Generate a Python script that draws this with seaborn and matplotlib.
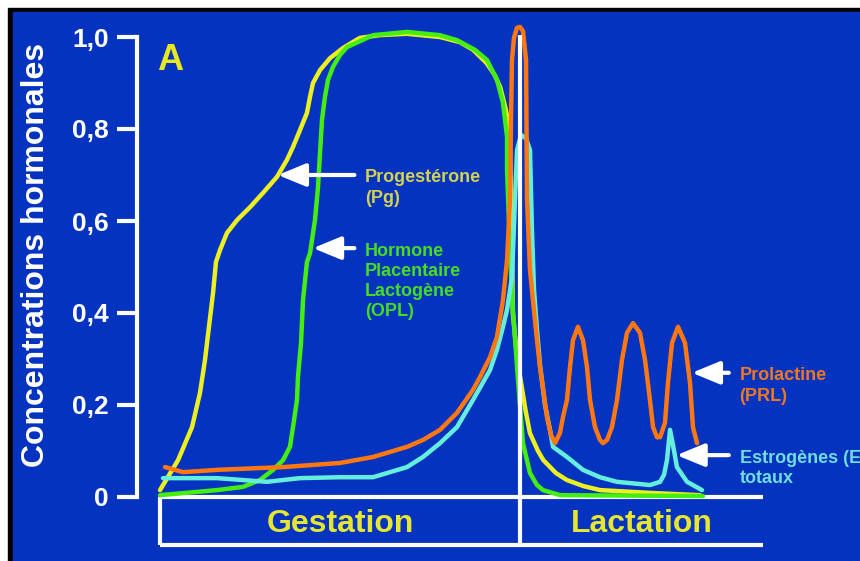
import seaborn as sns
import matplotlib.pyplot as plt
from matplotlib.patches import Rectangle

# time axis in weeks: gestation 0-40, then lactation
pg_weeks = [0, 2.0, 3.56, 4.44, 5.0, 5.44, 5.89, 6.22, 6.67, 7.44, 8.56, 10.0, 11.44, 13.0,
            14.11, 14.78, 15.56, 16.33, 16.67, 17.0, 17.78, 18.89, 20.33, 22.2, 24.4, 27.4,
            31.1, 33.3, 34.8, 36.3, 37.2, 37.8, 38.3, 38.6, 38.9, 39.1, 39.2, 39.7, 40.2, 40.6,
            41.1, 42.0, 42.6, 44.0, 45.2, 47.0, 48.9, 54.4, 60.0]
pg_conc = [0.015, 0.080, 0.152, 0.226, 0.298, 0.370, 0.443, 0.511, 0.537, 0.574, 0.602, 0.630,
           0.661, 0.696, 0.733, 0.761, 0.798, 0.835, 0.870, 0.900, 0.928, 0.954, 0.976, 0.998,
           1.004, 1.007, 1.0, 0.989, 0.972, 0.943, 0.917, 0.891, 0.852, 0.826, 0.748, 0.58,
           0.40, 0.298, 0.239, 0.19, 0.139, 0.100, 0.080, 0.052, 0.037, 0.024, 0.015, 0.009,
           0.004]

opl_weeks = [0, 6.33, 9.22, 11.11, 12.56, 13.67, 14.44, 14.78, 15.22, 15.33, 15.67, 15.89,
             16.33, 16.67, 17.22, 17.56, 17.78, 18.0, 18.33, 18.67, 19.22, 20.0, 20.78, 23.67,
             27.44, 31.1, 33.0, 35.0, 36.33, 37.44, 38.11, 38.56, 38.56, 38.89, 39.22, 39.78,
             40.33, 41.11, 41.89, 42.56, 44.44, 60.33]
opl_conc = [0.004, 0.015, 0.022, 0.037, 0.059, 0.080, 0.109, 0.152, 0.211, 0.261, 0.335, 0.428,
            0.511, 0.530, 0.602, 0.674, 0.748, 0.820, 0.870, 0.907, 0.935, 0.961, 0.978, 1.004,
            1.011, 1.004, 0.993, 0.972, 0.950, 0.907, 0.857, 0.783, 0.711, 0.537, 0.407, 0.254,
            0.117, 0.052, 0.026, 0.015, 0.004, 0.002]

prl_weeks = [0.56, 2.56, 6.33, 13.67, 20.0, 23.67, 27.44, 29.22, 31.11, 33.0, 34.78, 35.56,
             36.67, 37.44, 38.11, 38.56, 38.89, 39.0, 39.11, 39.33, 39.67, 40.0, 40.33, 40.67,
             40.78, 41.11, 41.44, 41.89, 42.22, 43.0, 43.44, 43.89, 44.44, 44.78, 45.22, 45.56,
             45.89, 46.44, 47.0, 47.44, 47.78, 48.33, 48.89, 49.22, 49.67, 50.22, 50.78, 51.33,
             51.89, 52.56, 53.33, 53.89, 54.44, 54.78, 55.22, 55.56, 56.11, 56.44, 56.89, 57.56,
             58.33, 58.89, 59.22, 59.67]
prl_conc = [0.065, 0.054, 0.059, 0.065, 0.074, 0.087, 0.109, 0.124, 0.146, 0.183, 0.233, 0.261,
            0.304, 0.348, 0.428, 0.515, 0.646, 0.820, 0.950, 0.998, 1.020, 1.022, 1.013, 0.950,
            0.646, 0.493, 0.428, 0.341, 0.283, 0.174, 0.135, 0.117, 0.139, 0.174, 0.211, 0.283,
            0.341, 0.370, 0.341, 0.283, 0.211, 0.152, 0.124, 0.117, 0.124, 0.152, 0.211, 0.298,
            0.357, 0.378, 0.357, 0.298, 0.211, 0.152, 0.130, 0.130, 0.161, 0.248, 0.335, 0.370,
            0.335, 0.248, 0.152, 0.117]

e_weeks = [0.33, 6.33, 11.89, 15.56, 20.0, 23.67, 27.44, 29.22, 31.11, 33.0, 34.78, 36.67,
           37.44, 38.11, 38.56, 39.11, 39.44, 39.67, 40.11, 40.67, 41.11, 41.33, 41.56, 41.89,
           42.22, 42.78, 43.33, 43.67, 45.22, 47.0, 48.89, 50.78, 54.44, 55.56, 56.0, 56.33,
           56.67, 57.0, 57.44, 58.56, 60.22]
e_conc = [0.041, 0.041, 0.033, 0.041, 0.043, 0.043, 0.065, 0.087, 0.117, 0.152, 0.211, 0.276,
          0.320, 0.370, 0.407, 0.478, 0.646, 0.754, 0.787, 0.780, 0.754, 0.580, 0.450, 0.363,
          0.287, 0.200, 0.146, 0.109, 0.087, 0.059, 0.043, 0.033, 0.026, 0.033, 0.048, 0.080,
          0.146, 0.113, 0.065, 0.033, 0.015]

periods = ["Gestation", "Lactation"]
period_bounds = [0, 40, 67]
yticks = [0, 0.2, 0.4, 0.6, 0.8, 1.0]
ytick_labels = ["0", "0,2", "0,4", "0,6", "0,8", "1,0"]

BLUE = "#0433BF"
sns.set_theme(style="white")
plt.rcParams["font.family"] = ["Liberation Sans", "DejaVu Sans"]
plt.rcParams["font.weight"] = "bold"

fig = plt.figure(figsize=(8.6, 5.61), dpi=100, facecolor="white")
fig.patches.append(Rectangle((8 / 860, 0), 1, 553 / 561, transform=fig.transFigure,
                             color="black", zorder=-2))
fig.patches.append(Rectangle((13 / 860, 0), 1, 549 / 561, transform=fig.transFigure,
                             color=BLUE, zorder=-1))
ax = fig.add_axes([0, 0, 1, 1])
ax.patch.set_visible(False)
ax.set_xlim(-160 / 9, 700 / 9)
ax.set_ylim(-64 / 460, 497 / 460)

series = [
    (pg_weeks, pg_conc, "#ECF020"),
    (opl_weeks, opl_conc, "#44EE11"),
    (e_weeks, e_conc, "#66EEDD"),
    (prl_weeks, prl_conc, "#FF7711"),
]
for i, (w, c, col) in enumerate(series):
    sns.lineplot(x=w, y=c, sort=False, estimator=None, color=col, lw=3.2, ax=ax, zorder=3 + i,
                 solid_joinstyle="round", solid_capstyle="round")

# y axis
for s in ["top", "right", "bottom"]:
    ax.spines[s].set_visible(False)
ax.spines["left"].set_position(("data", -23 / 9))
ax.spines["left"].set_bounds(0, 1)
ax.spines["left"].set_color("white")
ax.spines["left"].set_linewidth(3)
ax.set_yticks(yticks)
ax.set_yticklabels(ytick_labels)
ax.set_xticks([])
ax.tick_params(axis="y", left=True, direction="out", length=14.5, width=3, color="white",
               pad=6, labelsize=19, labelcolor="white")
ax.text(-13.8, 0.526, "Concentrations hormonales", rotation=90, ha="center", va="center",
        color="white", fontsize=23, fontweight="bold")
ax.text(1.1, 0.95, "A", ha="center", va="center", color="#E8E820", fontsize=26,
        fontweight="bold")

# period box
box_bottom = -48 / 460
ax.hlines([0, box_bottom], period_bounds[0], period_bounds[-1], color="white", lw=3, zorder=2)
ax.vlines(period_bounds[0], box_bottom, 0, color="white", lw=3, zorder=2)
ax.vlines(period_bounds[1], box_bottom, 1.004, color="white", lw=3, zorder=10)
for i, name in enumerate(periods):
    ax.text((period_bounds[i] + period_bounds[i + 1]) / 2, -27 / 460, name, ha="center",
            va="center", color="#E6E632", fontsize=23, fontweight="bold")

# labels and arrows
labels = [
    ("Progestérone\n(Pg)", "#D2D250", 13.1, 0.70, 22.8),
    ("Hormone\nPlacentaire\nLactogène\n(OPL)", "#44DD22", 17.0, 0.541, 22.8),
    ("Prolactine\n(PRL)", "#EE7722", 59.1, 0.27, 64.4),
    ("Estrogènes (E)\ntotaux", "#70DDDD", 57.4, 0.091, 64.4),
]
for text, col, tip_x, tip_y, text_x in labels:
    ax.annotate("", xy=(tip_x, tip_y), xytext=(text_x - 1.2, tip_y),
                arrowprops=dict(arrowstyle="-|>,head_length=0.85,head_width=0.35",
                                color="white", lw=3, shrinkA=0, shrinkB=0,
                                mutation_scale=20), zorder=12)
    ax.text(text_x, tip_y + 0.012, text, ha="left", va="top", color=col, fontsize=13,
            fontweight="bold", linespacing=1.25)

fig.savefig("out.png", dpi=100)
